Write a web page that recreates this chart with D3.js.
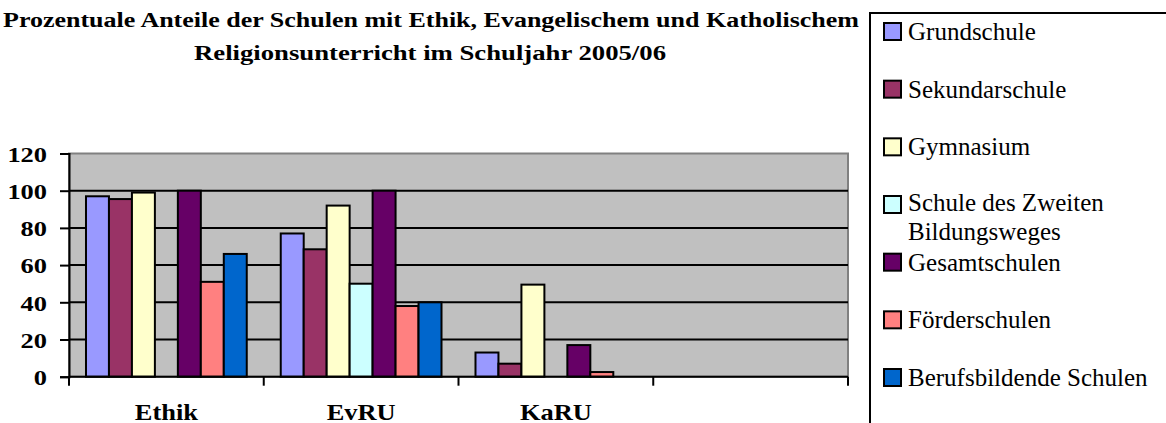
<!DOCTYPE html>
<html>
<head>
<meta charset="utf-8">
<script src="https://cdn.jsdelivr.net/npm/d3@7"></script>
<style>
  html, body { margin: 0; padding: 0; background: #fff; overflow: hidden; }
</style>
</head>
<body>
<svg id="chart" width="1166" height="423"></svg>
<script>
// categories on the x axis (the last one is empty in the original)
var categories = ["Ethik", "EvRU", "KaRU", ""];

// school types (series)
var seriesNames = ["Grundschule", "Sekundarschule", "Gymnasium",
    "Schule des Zweiten Bildungsweges", "Gesamtschulen", "Förderschulen",
    "Berufsbildende Schulen"];

// values per series, one per category
var grundschule    = [97, 77, 13, null];
var sekundarschule = [95.5, 68.5, 7, null];
var gymnasium      = [99, 92, 49.5, null];
var zweiterWeg     = [null, 50, null, null];
var gesamtschulen  = [100, 100, 17, null];
var foerderschulen = [51, 38, 2.5, null];
var berufsbildend  = [66, 40, null, null];

var yTicks = [0, 20, 40, 60, 80, 100, 120];

var colors = ["#9999FF", "#993366", "#FFFFCC", "#CCFFFF", "#660066", "#FF8080", "#0066CC"];

var seriesValues = [grundschule, sekundarschule, gymnasium, zweiterWeg,
    gesamtschulen, foerderschulen, berufsbildend];

var FONT = "Liberation Serif";

var svg = d3.select("#chart");

var plot = { left: 69, right: 848, top: 153.5, bottom: 376.7 };

var x0 = d3.scaleBand().domain(categories).range([plot.left, plot.right]).padding(0);
var x1 = d3.scaleBand().domain(seriesNames).range([0, x0.bandwidth()])
    .paddingInner(0).paddingOuter(0.74);
var y = d3.scaleLinear().domain([0, 120]).range([plot.bottom, plot.top]);

// plot area
svg.append("rect")
    .attr("x", plot.left).attr("y", plot.top)
    .attr("width", plot.right - plot.left).attr("height", plot.bottom - plot.top)
    .attr("fill", "#C0C0C0")
    .attr("stroke", "#808080").attr("stroke-width", 2);

// gridlines
svg.append("g").selectAll("line")
    .data(yTicks.filter(function (d) { return d > 0 && d < 120; }))
    .join("line")
    .attr("x1", plot.left).attr("x2", plot.right)
    .attr("y1", function (d) { return y(d); }).attr("y2", function (d) { return y(d); })
    .attr("stroke", "#000").attr("stroke-width", 2);

// bars
var rows = [];
categories.forEach(function (c, ci) {
    seriesNames.forEach(function (s, si) {
        var v = seriesValues[si][ci];
        if (v != null) rows.push({ cat: c, series: s, value: v, color: colors[si] });
    });
});

svg.append("g").selectAll("rect")
    .data(rows)
    .join("rect")
    .attr("x", function (d) { return x0(d.cat) + x1(d.series); })
    .attr("y", function (d) { return y(d.value); })
    .attr("width", x1.bandwidth())
    .attr("height", function (d) { return y(0) - y(d.value); })
    .attr("fill", function (d) { return d.color; })
    .attr("stroke", "#000").attr("stroke-width", 2);

// y axis
var yAxis = svg.append("g")
    .attr("transform", "translate(" + plot.left + ",0)")
    .call(d3.axisLeft(y).tickValues(yTicks).tickSize(9).tickPadding(0).tickFormat(d3.format("d")));
yAxis.attr("font-family", FONT);
yAxis.select(".domain").attr("stroke", "#000").attr("stroke-width", 2);
yAxis.selectAll(".tick line").attr("stroke", "#000").attr("stroke-width", 2);
yAxis.selectAll(".tick text")
    .attr("font-weight", "bold").attr("font-size", 22).attr("fill", "#000")
    .attr("x", 0).attr("dy", "0.35em")
    .attr("transform", "translate(-22,0) scale(1.2,1)");

// x axis, tick marks between the categories
var xAxis = svg.append("g")
    .attr("transform", "translate(0," + plot.bottom + ")");
xAxis.append("line")
    .attr("x1", plot.left).attr("x2", plot.right)
    .attr("stroke", "#000").attr("stroke-width", 2);
var edges = categories.map(function (c) { return x0(c); }).concat([plot.right]);
xAxis.selectAll(".xtick").data(edges).join("line")
    .attr("class", "xtick")
    .attr("x1", function (d) { return d; }).attr("x2", function (d) { return d; })
    .attr("y1", 0).attr("y2", 9)
    .attr("stroke", "#000").attr("stroke-width", 2);
xAxis.selectAll(".xlabel").data(categories.filter(function (c) { return c !== ""; })).join("text")
    .attr("class", "xlabel")
    .attr("font-family", FONT)
    .attr("text-anchor", "middle")
    .attr("font-weight", "bold").attr("font-size", 23)
    .attr("transform", function (d) {
        return "translate(" + (x0(d) + x0.bandwidth() / 2) + ",43) scale(1.15,1)";
    })
    .text(function (d) { return d; });

// title
var title = svg.append("g").attr("font-family", FONT).attr("font-weight", "bold")
    .attr("font-size", 20).attr("text-anchor", "middle");
title.append("text").attr("x", 431).attr("y", 27)
    .attr("textLength", 856).attr("lengthAdjust", "spacingAndGlyphs")
    .text("Prozentuale Anteile der Schulen mit Ethik, Evangelischem und Katholischem");
title.append("text").attr("x", 430).attr("y", 60)
    .attr("textLength", 472).attr("lengthAdjust", "spacingAndGlyphs")
    .text("Religionsunterricht im Schuljahr 2005/06");

// legend
var legend = svg.append("g");
legend.append("rect")
    .attr("x", 870).attr("y", 13).attr("width", 320).attr("height", 430)
    .attr("fill", "#fff").attr("stroke", "#000").attr("stroke-width", 2);

var legendY = d3.scalePoint().domain(seriesNames).range([31.5, 377.5]);
var items = legend.selectAll(".item").data(seriesNames).join("g")
    .attr("class", "item")
    .attr("transform", function (d) { return "translate(884," + legendY(d) + ")"; });
items.append("rect")
    .attr("x", 0).attr("y", -8.5).attr("width", 17).attr("height", 17)
    .attr("fill", function (d, i) { return colors[i]; })
    .attr("stroke", "#000").attr("stroke-width", 2);
items.append("text")
    .attr("font-family", FONT)
    .attr("x", 24).attr("y", 8.5)
    .attr("font-size", 25)
    .each(function (d) {
        var t = d3.select(this);
        if (d === "Schule des Zweiten Bildungsweges") {
            t.attr("y", 6);
            t.append("tspan").attr("x", 24).text("Schule des Zweiten");
            t.append("tspan").attr("x", 24).attr("dy", 29).text("Bildungsweges");
        } else {
            t.text(d);
        }
    });
</script>
</body>
</html>
